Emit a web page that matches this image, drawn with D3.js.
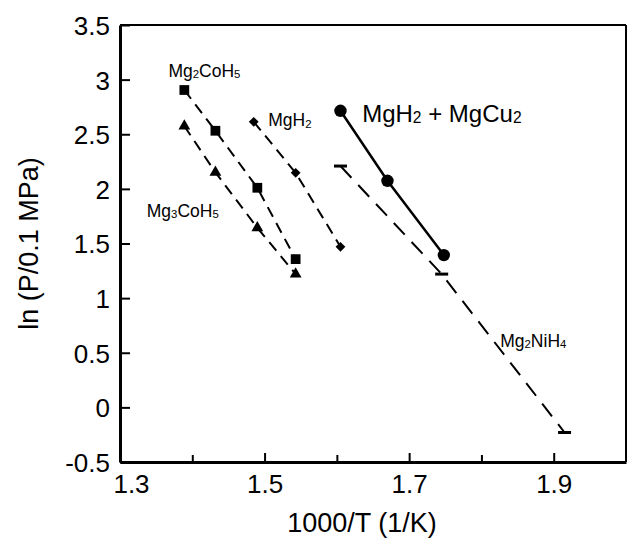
<!DOCTYPE html>
<html>
<head>
<meta charset="utf-8">
<script src="https://cdn.jsdelivr.net/npm/d3@7"></script>
<style>
  body { margin: 0; background: #fff; }
  text { font-family: "Liberation Sans", Arial, Helvetica, sans-serif; fill: #000; }
</style>
</head>
<body>
<div id="viz"></div>
<script>
// data
const mg2coh5X = [1.389, 1.432, 1.490, 1.543]
const mg2coh5Y = [2.905, 2.532, 2.010, 1.357]
const mg3coh5X = [1.389, 1.432, 1.490, 1.543]
const mg3coh5Y = [2.575, 2.151, 1.644, 1.220]
const mgh2X = [1.485, 1.543, 1.605]
const mgh2Y = [2.614, 2.147, 1.470]
const mgcu2X = [1.605, 1.670, 1.748]
const mgcu2Y = [2.715, 2.074, 1.394]
const mg2nih4X = [1.605, 1.745, 1.915]
const mg2nih4Y = [2.209, 1.220, -0.230]

const xTicks = [1.3, 1.4, 1.5, 1.6, 1.7, 1.8, 1.9]
const xLabelled = [1.3, 1.5, 1.7, 1.9]
const yTicks = [-0.5, 0, 0.5, 1, 1.5, 2, 2.5, 3, 3.5]

// labels: [text parts], data-space anchor
const labels = [
  { parts: [["Mg", 0], ["2", 1], ["CoH", 0], ["5", 1]], x: 1.367, y: 3.027, size: 17.5 },
  { parts: [["Mg", 0], ["3", 1], ["CoH", 0], ["5", 1]], x: 1.337, y: 1.744, size: 17.5 },
  { parts: [["MgH", 0], ["2", 1]], x: 1.505, y: 2.575, size: 17.5 },
  { parts: [["MgH", 0], ["2", 1], [" + MgCu", 0], ["2", 1]], x: 1.635, y: 2.614, size: 24 },
  { parts: [["Mg", 0], ["2", 1], ["NiH", 0], ["4", 1]], x: 1.826, y: 0.554, size: 17.5 }
]

let margin = { left: 120, right: 2, top: 25, bottom: 79 }
let W = 628, H = 541
let width = W - margin.left - margin.right
let height = H - margin.top - margin.bottom

let svg = d3.select("#viz").append("svg")
    .attr("width", W).attr("height", H)
  .append("g")
    .attr("transform", `translate(${margin.left},${margin.top})`)

let xScale = d3.scaleLinear().domain([1.3, 2.0]).range([0, width])
let yScale = d3.scaleLinear().domain([-0.5, 3.5]).range([height, 0])

const zip = (xs, ys) => xs.map((x, i) => ({ x: x, y: ys[i] }))
let line = d3.line().x(d => xScale(d.x)).y(d => yScale(d.y))

// top / right frame
svg.append("line").attr("x1", 0).attr("x2", width).attr("y1", 0).attr("y2", 0)
  .attr("stroke", "#000").attr("stroke-width", 2)
svg.append("line").attr("x1", width).attr("x2", width).attr("y1", 0).attr("y2", height)
  .attr("stroke", "#000").attr("stroke-width", 2)

// axes
let xAxis = d3.axisBottom(xScale)
  .tickValues(xTicks)
  .tickSizeInner(-9).tickSizeOuter(0)
  .tickPadding(13)
  .tickFormat(d => xLabelled.some(v => Math.abs(v - d) < 1e-6) ? d3.format(".1f")(d) : "")

let gx = svg.append("g").attr("transform", `translate(0,${height})`).call(xAxis)
gx.selectAll(".tick line")
  .attr("y2", d => xLabelled.some(v => Math.abs(v - d) < 1e-6) ? -9 : -7)
  .attr("stroke-width", 2)
gx.selectAll(".tick text").attr("font-size", 26)
  .attr("dx", d => d === 1.3 ? 11 : 0)

let yAxis = d3.axisLeft(yScale)
  .tickValues(yTicks)
  .tickSizeInner(-10).tickSizeOuter(0)
  .tickPadding(10)
  .tickFormat(d => String(d))

let gy = svg.append("g").call(yAxis)
gy.selectAll(".tick line").attr("stroke-width", 2)
gy.selectAll(".tick text").attr("font-size", 26).attr("dy", "0.36em")

svg.selectAll(".domain").attr("stroke-width", 3)

// titles
svg.append("text")
  .attr("x", width / 2 - 11).attr("y", height + 70)
  .attr("text-anchor", "middle").attr("font-size", 27)
  .text("1000/T (1/K)")

svg.append("text")
  .attr("transform", `translate(${-82},${height / 2}) rotate(-90)`)
  .attr("text-anchor", "middle").attr("font-size", 27)
  .text("ln (P/0.1 MPa)")

// series lines
const series = [
  { d: zip(mg2coh5X, mg2coh5Y), dash: "11,7", w: 2 },
  { d: zip(mg3coh5X, mg3coh5Y), dash: "11,7", w: 2 },
  { d: zip(mgh2X, mgh2Y), dash: "11,7", w: 2 },
  { d: zip(mgcu2X, mgcu2Y), dash: null, w: 2.5 },
  { d: zip(mg2nih4X, mg2nih4Y), dash: "16,10", w: 2 }
]
svg.selectAll(".series").data(series).join("path")
  .attr("class", "series")
  .attr("d", s => line(s.d))
  .attr("fill", "none").attr("stroke", "#000")
  .attr("stroke-width", s => s.w)
  .attr("stroke-dasharray", s => s.dash)

// markers
const sym = (type, size) => d3.symbol().type(type).size(size)()
svg.selectAll(".sq").data(zip(mg2coh5X, mg2coh5Y)).join("path")
  .attr("transform", d => `translate(${xScale(d.x)},${yScale(d.y)})`)
  .attr("d", sym(d3.symbolSquare, 95))
svg.selectAll(".tri").data(zip(mg3coh5X, mg3coh5Y)).join("path")
  .attr("transform", d => `translate(${xScale(d.x)},${yScale(d.y)})`)
  .attr("d", sym(d3.symbolTriangle, 60))
svg.selectAll(".dia").data(zip(mgh2X, mgh2Y)).join("path")
  .attr("transform", d => `translate(${xScale(d.x)},${yScale(d.y)}) rotate(45)`)
  .attr("d", sym(d3.symbolSquare, 48))
svg.selectAll(".circ").data(zip(mgcu2X, mgcu2Y)).join("circle")
  .attr("cx", d => xScale(d.x)).attr("cy", d => yScale(d.y)).attr("r", 6.2)
svg.selectAll(".bar").data(zip(mg2nih4X, mg2nih4Y)).join("rect")
  .attr("x", d => xScale(d.x) - 6.5).attr("y", d => yScale(d.y) - 1.5)
  .attr("width", 13).attr("height", 3)

// labels with subscripts
labels.forEach(l => {
  let t = svg.append("text")
    .attr("x", xScale(l.x)).attr("y", yScale(l.y))
    .attr("font-size", l.size)
  l.parts.forEach(p => {
    t.append("tspan")
      .attr("font-size", p[1] ? l.size * 0.65 : l.size)
      .attr("dy", p[1] ? 1.5 : 0)
      .text(p[0])
  })
  // reset baseline after subscripts
  t.selectAll("tspan").filter((d, i, n) => i > 0 && !l.parts[i][1] && l.parts[i - 1][1])
    .attr("dy", -1.5)
})
</script>
</body>
</html>
